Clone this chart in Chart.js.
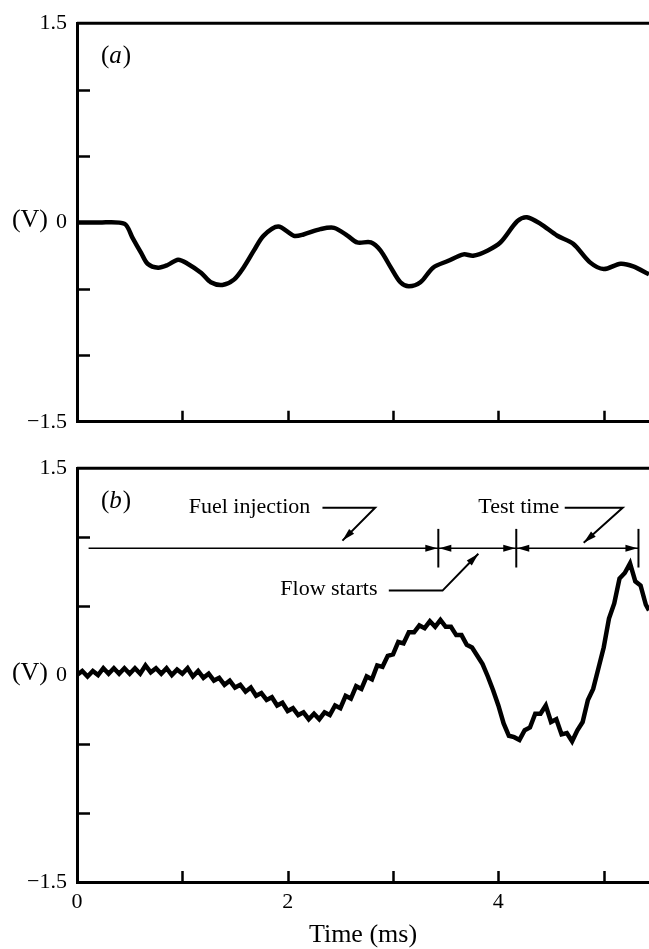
<!DOCTYPE html>
<html>
<head>
<meta charset="utf-8">
<script src="https://cdn.jsdelivr.net/npm/chart.js@4/dist/chart.umd.min.js"></script>
<style>
  html, body { margin: 0; padding: 0; background: #fff; }
  #wrap { position: relative; width: 649px; height: 949px; overflow: hidden; }
  canvas { position: absolute; left: 0; }
</style>
</head>
<body>
<div id="wrap">
  <canvas id="chartA" width="649" height="445" style="top:0"></canvas>
  <canvas id="chartB" width="649" height="504" style="top:445px"></canvas>
</div>
<script>
// (a) trace: time in ms, signal in V
const timeA = [0.00, 0.20, 0.45, 0.53, 0.61, 0.67, 0.77, 0.86, 0.96, 1.05, 1.18, 1.27, 1.38, 1.49,
  1.58, 1.68, 1.77, 1.91, 2.06, 2.15, 2.31, 2.44, 2.57, 2.66, 2.79, 2.88, 2.98, 3.07, 3.15, 3.26,
  3.38, 3.52, 3.67, 3.76, 3.90, 4.02, 4.18, 4.27, 4.40, 4.56, 4.71, 4.87, 5.00, 5.16, 5.28, 5.43];
const voltA = [0.00, 0.00, -0.01, -0.12, -0.23, -0.31, -0.34, -0.32, -0.28, -0.31, -0.38, -0.45, -0.47, -0.43,
  -0.34, -0.21, -0.10, -0.03, -0.10, -0.09, -0.05, -0.04, -0.10, -0.15, -0.15, -0.21, -0.34, -0.45, -0.48, -0.45,
  -0.34, -0.29, -0.24, -0.25, -0.21, -0.15, 0.01, 0.04, -0.01, -0.10, -0.16, -0.30, -0.35, -0.31, -0.33, -0.39];

// (b) trace, sampled every 0.05 ms
const timeB = [0.00, 0.05, 0.10, 0.15, 0.20, 0.25, 0.30, 0.35, 0.40, 0.45, 0.50, 0.55, 0.60, 0.65, 0.70,
  0.75, 0.80, 0.85, 0.90, 0.95, 1.00, 1.05, 1.10, 1.15, 1.20, 1.25, 1.30, 1.35, 1.40, 1.45, 1.50,
  1.55, 1.60, 1.65, 1.70, 1.75, 1.80, 1.85, 1.90, 1.95, 2.00, 2.05, 2.10, 2.15, 2.20, 2.25, 2.30,
  2.35, 2.40, 2.45, 2.50, 2.55, 2.60, 2.65, 2.70, 2.75, 2.80, 2.85, 2.90, 2.95, 3.00, 3.05, 3.10,
  3.15, 3.20, 3.25, 3.30, 3.35, 3.40, 3.45, 3.50, 3.55, 3.60, 3.65, 3.70, 3.75, 3.80, 3.85, 3.90,
  3.95, 4.00, 4.05, 4.10, 4.15, 4.20, 4.25, 4.30, 4.35, 4.40, 4.45, 4.50, 4.55, 4.60, 4.65, 4.70,
  4.75, 4.80, 4.85, 4.90, 4.95, 5.00, 5.05, 5.10, 5.15, 5.20, 5.25, 5.30, 5.35, 5.40, 5.43];
const voltB = [0.00, 0.03, -0.01, 0.03, 0.00, 0.05, 0.01, 0.05, 0.01, 0.05, 0.01, 0.05, 0.01, 0.07, 0.02,
  0.05, 0.01, 0.05, 0.00, 0.04, 0.01, 0.05, -0.01, 0.03, -0.02, 0.01, -0.04, -0.02, -0.07, -0.04, -0.09,
  -0.07, -0.12, -0.09, -0.15, -0.13, -0.18, -0.16, -0.22, -0.20, -0.26, -0.24, -0.29, -0.27, -0.32, -0.28, -0.32,
  -0.27, -0.29, -0.22, -0.24, -0.15, -0.17, -0.08, -0.10, -0.01, -0.03, 0.07, 0.06, 0.14, 0.15, 0.24, 0.23,
  0.31, 0.31, 0.36, 0.34, 0.39, 0.35, 0.40, 0.35, 0.35, 0.29, 0.29, 0.22, 0.20, 0.14, 0.08, -0.01,
  -0.11, -0.22, -0.35, -0.44, -0.45, -0.47, -0.40, -0.38, -0.28, -0.28, -0.22, -0.34, -0.32, -0.43, -0.42, -0.48,
  -0.40, -0.34, -0.18, -0.10, 0.05, 0.20, 0.41, 0.52, 0.70, 0.74, 0.81, 0.68, 0.65, 0.51, 0.47];

const yTickLabels = { '1.5': '1.5', '0': '0', '-1.5': '\u22121.5' };
const xTickLabels = { '0': '0', '2': '2', '4': '4' };

// timing bar in (b)
const barLevel = 0.92;
const barStart = 0.11;
const markerTimes = [3.43, 4.17, 5.33];
const markerHalf = 0.14;
const calloutText = ['Fuel injection', 'Test time', 'Flow starts'];
const calloutTextT = [1.06, 3.81, 1.93];
const calloutTextV = [1.22, 1.22, 0.62];
const leaderFrom = [2.33, 4.63, 2.96];
const leaderTo = [2.83, 5.18, 3.47];
const tipT = [2.52, 4.81, 3.81];
const tipV = [0.975, 0.96, 0.88];

const SERIF = '"Liberation Serif", "DejaVu Serif", serif';
const X_MAX = 5.43;

function arrowHead(ctx, tx, ty, fx, fy, len, half) {
  const a = Math.atan2(ty - fy, tx - fx);
  const bx = tx - len * Math.cos(a), by = ty - len * Math.sin(a);
  ctx.beginPath();
  ctx.moveTo(tx, ty);
  ctx.lineTo(bx + half * Math.sin(a), by - half * Math.cos(a));
  ctx.lineTo(bx - half * Math.sin(a), by + half * Math.cos(a));
  ctx.closePath();
  ctx.fill();
}

function panelLabel(ctx, x, y, letter) {
  ctx.textBaseline = 'middle';
  ctx.textAlign = 'left';
  ctx.font = `25px ${SERIF}`;
  ctx.fillText('(', x, y);
  let w = ctx.measureText('(').width;
  ctx.font = `italic 25px ${SERIF}`;
  ctx.fillText(letter, x + w, y);
  w += ctx.measureText(letter).width + 1;
  ctx.font = `25px ${SERIF}`;
  ctx.fillText(')', x + w, y);
}

// inward tick marks, top frame line, panel letter and the (V) unit
const frame = {
  id: 'frame',
  afterDatasetsDraw(chart, args, opts) {
    const { ctx, chartArea: ca, scales: { x, y } } = chart;
    ctx.save();
    ctx.strokeStyle = '#000';
    ctx.fillStyle = '#000';
    ctx.lineWidth = 2.5;
    ctx.beginPath();
    y.ticks.forEach(t => {
      if (Math.abs(t.value) > 1.4 || t.value === 0) return;
      const py = Math.round(y.getPixelForValue(t.value)) + 0.5;
      ctx.moveTo(ca.left, py);
      ctx.lineTo(ca.left + 13, py);
    });
    x.ticks.forEach(t => {
      if (t.value === 0) return;
      const px = Math.round(x.getPixelForValue(t.value)) + 0.5;
      ctx.moveTo(px, ca.bottom);
      ctx.lineTo(px, ca.bottom - 11);
    });
    ctx.stroke();
    ctx.lineWidth = 3;
    ctx.beginPath();
    ctx.moveTo(ca.left, ca.top);
    ctx.lineTo(ca.right, ca.top);
    ctx.stroke();

    panelLabel(ctx, ca.left + 24, ca.top + 33, opts.letter);

    ctx.font = `26px ${SERIF}`;
    ctx.textAlign = 'right';
    ctx.textBaseline = 'middle';
    ctx.fillText('(V)', 48, y.getPixelForValue(0) - 2);
    ctx.restore();
  }
};

// fuel injection / flow / test time bar
const timingBar = {
  id: 'timingBar',
  afterDatasetsDraw(chart) {
    const { ctx, scales: { x, y } } = chart;
    if (!chart.options.plugins.timingBar) return;
    ctx.save();
    ctx.strokeStyle = '#000';
    ctx.fillStyle = '#000';
    const by = y.getPixelForValue(barLevel);
    const lastT = markerTimes[markerTimes.length - 1];
    ctx.lineWidth = 1.6;
    ctx.beginPath();
    ctx.moveTo(x.getPixelForValue(barStart), by);
    ctx.lineTo(x.getPixelForValue(lastT), by);
    ctx.stroke();

    markerTimes.forEach((t, i) => {
      const px = x.getPixelForValue(t);
      ctx.lineWidth = 2;
      ctx.beginPath();
      ctx.moveTo(px, y.getPixelForValue(barLevel + markerHalf));
      ctx.lineTo(px, y.getPixelForValue(barLevel - markerHalf));
      ctx.stroke();
      arrowHead(ctx, px - 1, by, px - 14, by, 12, 3.5);
      if (i < markerTimes.length - 1) arrowHead(ctx, px + 1, by, px + 14, by, 12, 3.5);
    });

    ctx.font = `22px ${SERIF}`;
    ctx.textAlign = 'left';
    ctx.textBaseline = 'middle';
    calloutText.forEach((txt, i) => {
      const ly = y.getPixelForValue(calloutTextV[i]);
      ctx.fillText(txt, x.getPixelForValue(calloutTextT[i]), ly);
      const ex = x.getPixelForValue(leaderTo[i]);
      const tx = x.getPixelForValue(tipT[i]), ty = y.getPixelForValue(tipV[i]);
      ctx.lineWidth = 2;
      ctx.beginPath();
      ctx.moveTo(x.getPixelForValue(leaderFrom[i]), ly + 1);
      ctx.lineTo(ex, ly + 1);
      ctx.lineTo(tx, ty);
      ctx.stroke();
      arrowHead(ctx, tx, ty, ex, ly + 1, 13, 3.5);
    });
    ctx.restore();
  }
};

function makeChart(id, times, volts, cfg) {
  const points = times.map((t, i) => ({ x: t, y: volts[i] }));
  return new Chart(document.getElementById(id), {
    type: 'line',
    data: {
      datasets: [{
        data: points,
        borderColor: '#000',
        borderWidth: cfg.lineWidth,
        tension: cfg.tension,
        pointRadius: 0,
        fill: false
      }]
    },
    options: {
      responsive: false,
      animation: false,
      layout: { padding: { top: cfg.padTop, left: 0, right: 0, bottom: 0 } },
      plugins: {
        legend: { display: false },
        tooltip: { enabled: false },
        frame: { letter: cfg.letter },
        timingBar: cfg.bar
      },
      scales: {
        x: {
          type: 'linear',
          min: 0,
          max: X_MAX,
          afterFit(scale) { scale.height = cfg.xHeight; },
          grid: { display: false, drawTicks: false },
          border: { display: true, color: '#000', width: 3 },
          ticks: {
            display: cfg.xLabels,
            stepSize: 1,
            includeBounds: false,
            maxRotation: 0,
            autoSkip: false,
            padding: 7,
            color: '#000',
            font: { family: SERIF, size: 22 },
            callback: v => xTickLabels[String(v)] || ''
          },
          title: {
            display: cfg.xLabels,
            text: 'Time (ms)',
            color: '#000',
            font: { family: SERIF, size: 26, lineHeight: 1.1 },
            padding: { top: 0, bottom: 0 }
          }
        },
        y: {
          min: -1.5,
          max: 1.5,
          afterFit(scale) { scale.width = 77; },
          grid: { display: false, drawTicks: false },
          border: { display: true, color: '#000', width: 3 },
          ticks: {
            stepSize: 0.5,
            autoSkip: false,
            padding: 10,
            color: '#000',
            font: { family: SERIF, size: 22 },
            callback: v => yTickLabels[String(v)] || ''
          }
        }
      }
    },
    plugins: [frame, timingBar]
  });
}

makeChart('chartA', timeA, voltA, { letter: 'a', lineWidth: 4.5, tension: 0.3, padTop: 15, xHeight: 19, xLabels: false, bar: false });
makeChart('chartB', timeB, voltB, { letter: 'b', lineWidth: 4.5, tension: 0, padTop: 17, xHeight: 67, xLabels: true, bar: true });
</script>
</body>
</html>
